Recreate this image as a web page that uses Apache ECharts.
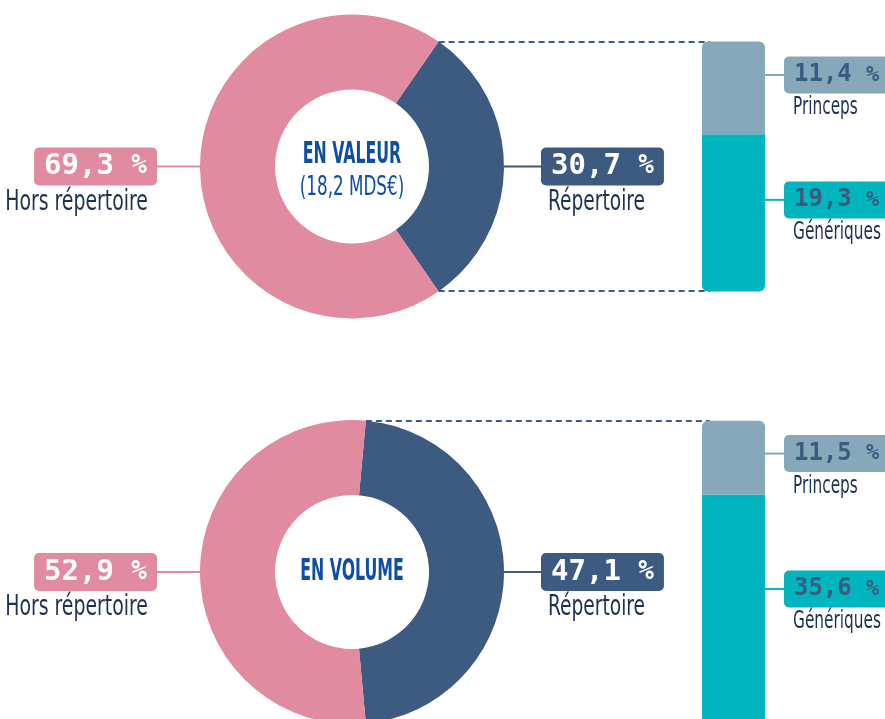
<!DOCTYPE html>
<html>
<head>
<meta charset="utf-8">
<title>Répertoire des génériques</title>
<script src="https://cdn.jsdelivr.net/npm/echarts@6/dist/echarts.min.js"></script>
<style>
  html, body { margin: 0; padding: 0; background: #fff; }
  #chart { width: 885px; height: 719px; }
</style>
</head>
<body>
<div id="chart"></div>
<script>
// Market shares (%) : first in value, then in volume
const pieNames = ['Répertoire', 'Hors répertoire'];
const valeurShares = [30.7, 69.3];
const volumeShares = [47.1, 52.9];

// Split of the "Répertoire" slice
const splitNames = ['Princeps', 'Génériques'];
const valeurSplit = [11.4, 19.3];
const volumeSplit = [11.5, 35.6];

const centerTitles = ['EN VALEUR', 'EN VOLUME'];
const centerSubtitles = ['(18,2 MDS€)', ''];

const COLORS = {
    rep: '#3d5a80', hors: '#e08ba0', princeps: '#87a7bb', generiques: '#00b5bd',
    name: '#1d3150', center: '#0e4fa3'
};
const MONO = '"DejaVu Sans Mono", monospace';
const COND = '"DejaVu Sans Condensed", "DejaVu Sans", sans-serif';

// layout
const R_OUT = 152, R_IN = 77, CX = 352;
const CENTERS_Y = [166.5, 572];
const BAR_LEFT = 702, BAR_W = 63, BAR_LEADER = 19;
const PIE_LINE_LEN = [37, 43];
const BAR_LABEL_DY = [[-13, -13], [-4, -20]];

function fmt(v) {
    return v.toFixed(1).replace('.', ',');
}

function pieSeries(i, shares) {
    const colors = [COLORS.rep, COLORS.hors];
    return {
        type: 'pie',
        center: [CX, CENTERS_Y[i]],
        radius: [R_IN, R_OUT],
        startAngle: shares[0] * 1.8,
        clockwise: true,
        avoidLabelOverlap: false,
        silent: true,
        emphasis: { disabled: true },
        label: {
            show: true,
            position: 'outside',
            distanceToLabelLine: 0,
            color: '#fff',
            padding: [0, 10, 0, 10],
            borderRadius: 5,
            formatter: p => `{v|${fmt(p.value)} }{p|%}`,
            rich: {
                v: { fontFamily: MONO, fontWeight: 'bold', fontSize: 29, color: '#fff', lineHeight: 38, height: 38 },
                p: { fontFamily: MONO, fontWeight: 'bold', fontSize: 26, color: '#fff', lineHeight: 38, height: 38 }
            }
        },
        labelLine: { show: true, length2: 0, lineStyle: { width: 2 } },
        data: pieNames.map((n, k) => ({
            name: n,
            value: shares[k],
            itemStyle: { color: colors[k] },
            label: { backgroundColor: colors[k] },
            labelLine: { length: PIE_LINE_LEN[k] }
        }))
    };
}

function barSeries(i, split) {
    const colors = [COLORS.princeps, COLORS.generiques];
    // Génériques at the bottom, Princeps on top
    return [1, 0].map(k => ({
        type: 'bar',
        xAxisIndex: i,
        yAxisIndex: i,
        stack: 'rep' + i,
        barWidth: BAR_W,
        silent: true,
        itemStyle: { color: colors[k], borderRadius: k === 0 ? [6, 6, 0, 0] : [0, 0, 6, 6] },
        label: {
            show: true,
            position: 'right',
            distance: 0,
            offset: [0, BAR_LABEL_DY[i][k]],
            formatter: p => `{ln|}{v|${fmt(p.value)} }{p|%}`,
            rich: {
                ln: { width: BAR_LEADER, height: 2, backgroundColor: colors[k] },
                v: { fontFamily: MONO, fontWeight: 'bold', fontSize: 24, color: COLORS.rep,
                     backgroundColor: colors[k], width: 72, height: 37, lineHeight: 37,
                     padding: [0, 0, 0, 10], borderRadius: [5, 0, 0, 5] },
                p: { fontFamily: MONO, fontWeight: 'bold', fontSize: 22, color: COLORS.rep,
                     backgroundColor: colors[k], width: 16, height: 37, lineHeight: 37,
                     padding: [0, 10, 0, 0], borderRadius: [0, 5, 5, 0] }
            }
        },
        data: [split[k]]
    }));
}

function nameText(text, x, y, size, align, scale) {
    return {
        type: 'text', z: 10, silent: true, x: x, y: y, scaleX: scale,
        style: { text: text, fontFamily: COND, fontSize: size, fill: COLORS.name,
                 align: align, verticalAlign: 'middle' }
    };
}

const allShares = [valeurShares, volumeShares];
const allSplits = [valeurSplit, volumeSplit];

const grids = [], xAxes = [], yAxes = [], graphics = [];
allShares.forEach((shares, i) => {
    const half = shares[0] * 1.8 * Math.PI / 180;
    const cy = CENTERS_Y[i];
    const yTop = cy - R_OUT * Math.sin(half);
    const yBot = cy + R_OUT * Math.sin(half);
    const xPt = CX + R_OUT * Math.cos(half);

    grids.push({ left: BAR_LEFT, width: BAR_W, top: yTop, height: yBot - yTop, outerBoundsMode: 'none' });
    xAxes.push({ type: 'category', gridIndex: i, data: [''], show: false });
    yAxes.push({ type: 'value', gridIndex: i, min: 0, max: shares[0], show: false });

    // dashed connectors from the Répertoire slice to the bar
    [yTop, yBot].forEach(y => {
        const yy = Math.round(y);
        graphics.push({
            type: 'line', z: 1, silent: true,
            shape: { x1: xPt, y1: yy, x2: BAR_LEFT + 8, y2: yy },
            style: { stroke: COLORS.rep, lineWidth: 2, lineDash: [6, 4] }
        });
    });

    // slice names under the percentage boxes
    graphics.push(nameText(pieNames[0], CX + R_OUT + PIE_LINE_LEN[0] + 7, cy + 36, 28, 'left', 0.74));
    graphics.push(nameText(pieNames[1], CX - R_OUT - PIE_LINE_LEN[1] - 9, cy + 36, 28, 'right', 0.75));

    const hasSub = centerSubtitles[i] !== '';
    graphics.push({
        type: 'text', z: 10, silent: true,
        x: CX, y: hasSub ? cy - 12 : cy, scaleX: 0.565,
        style: { text: centerTitles[i], fontFamily: COND, fontWeight: 'bold', fontSize: 31,
                 fill: COLORS.center, align: 'center', verticalAlign: 'middle' }
    });
    if (hasSub) {
        graphics.push({
            type: 'text', z: 10, silent: true,
            x: CX, y: cy + 21, scaleX: 0.69,
            style: { text: centerSubtitles[i], fontFamily: COND, fontSize: 27,
                     fill: COLORS.center, align: 'center', verticalAlign: 'middle' }
        });
    }
});

const chart = echarts.init(document.getElementById('chart'));
chart.setOption({
    animation: false,
    grid: grids,
    xAxis: xAxes,
    yAxis: yAxes,
    series: [
        pieSeries(0, valeurShares),
        pieSeries(1, volumeShares),
        ...barSeries(0, valeurSplit),
        ...barSeries(1, volumeSplit)
    ]
});

// names of the bar segments, placed under their boxes (segment middle from the axis scale)
allSplits.forEach((split, i) => {
    const mids = [split[1] + split[0] / 2, split[1] / 2];
    mids.forEach((m, k) => {
        const y = chart.convertToPixel({ gridIndex: i }, [0, m])[1] + BAR_LABEL_DY[i][k];
        graphics.push(nameText(splitNames[k], BAR_LEFT + BAR_W + BAR_LEADER + 9, y + 33, 24, 'left', 0.71));
    });
});
chart.setOption({ graphic: graphics });
</script>
</body>
</html>
